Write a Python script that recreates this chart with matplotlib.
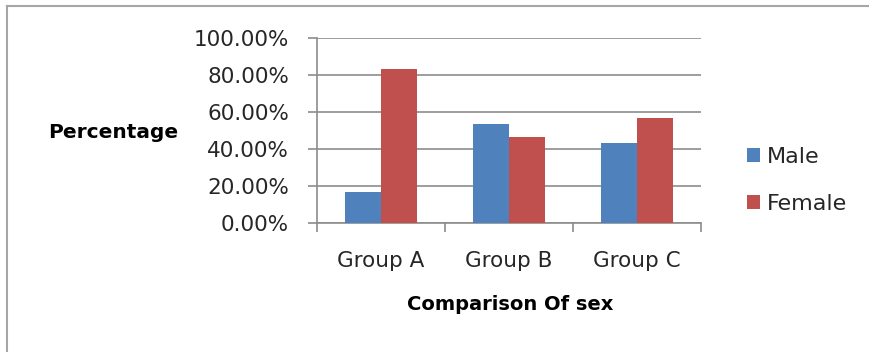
import matplotlib
matplotlib.use("Agg")
import matplotlib.pyplot as plt
from matplotlib.lines import Line2D
from matplotlib.ticker import FuncFormatter, FixedLocator
import numpy as np

groups = ["Group A", "Group B", "Group C"]
male = [16.67, 53.33, 43.33]
female = [83.33, 46.67, 56.67]

plt.rcParams['font.family'] = ['DejaVu Sans']

fig = plt.figure(figsize=(8.69, 3.52), dpi=100)
ax = fig.add_axes([317 / 869, 1 - 223.5 / 352, (701 - 317) / 869, (223.5 - 37.5) / 352])

x = np.arange(len(groups))
w = 0.28
ax.bar(x - w / 2, male, w, color="#4F81BD", label="Male", zorder=3)
ax.bar(x + w / 2, female, w, color="#C0504D", label="Female", zorder=3)

ax.set_xlim(-0.5, 2.5)
ax.set_ylim(0, 100)
ax.set_yticks(np.arange(0, 101, 20))
ax.yaxis.set_major_formatter(FuncFormatter(lambda v, p: f"{v:.2f}%"))
ax.yaxis.grid(True, color="#8c8c8c", linewidth=1.2, zorder=0)

ax.set_xticks(x)
ax.set_xticklabels(groups)
ax.xaxis.set_minor_locator(FixedLocator([-0.5, 0.5, 1.5, 2.5]))
ax.tick_params(axis="x", which="major", length=0, pad=20, labelsize=15.5, labelcolor="#262626")
ax.tick_params(axis="x", which="minor", length=6.5, color="#8c8c8c", width=1.2)
ax.tick_params(axis="y", length=6.5, color="#8c8c8c", width=1.2, labelsize=15.5, pad=13.5,
               labelcolor="#262626")

for s in ["top", "right"]:
    ax.spines[s].set_visible(False)
for s in ["left", "bottom"]:
    ax.spines[s].set_color("#8c8c8c")
    ax.spines[s].set_linewidth(1.2)

fig.text(113 / 869, 1 - 132 / 352, "Percentage", fontsize=14.5, fontweight="bold",
         ha="center", va="center")
fig.text(510 / 869, 1 - 304 / 352, "Comparison Of sex", fontsize=14, fontweight="bold",
         ha="center", va="center")

fig.legend(loc="center left", bbox_to_anchor=(747 / 869, 1 - 180.5 / 352), frameon=False,
           fontsize=16, handlelength=0.6, handleheight=0.6, handletextpad=0.3,
           labelspacing=1.2, borderpad=0, borderaxespad=0, labelcolor="#262626")

# chart area border (left and top edges only visible in the crop)
bx, by = 6.5 / 869, 1 - 6 / 352
fig.add_artist(Line2D([bx, bx], [0, by], transform=fig.transFigure, color="#a6a6a6", lw=1.5))
fig.add_artist(Line2D([bx, 1], [by, by], transform=fig.transFigure, color="#a6a6a6", lw=1.5))

fig.savefig("out.png", dpi=100)
